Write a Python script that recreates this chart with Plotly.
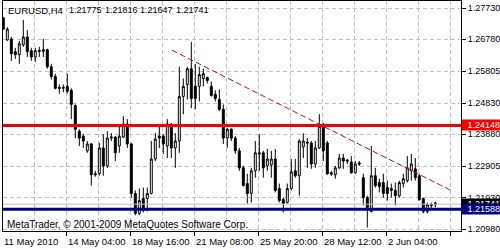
import plotly.graph_objects as go

# ---------------- data (EURUSD, H4) ----------------
bars = list(range(109))
opens = [1.2743, 1.2676, 1.2679, 1.2640, 1.2631, 1.2661, 1.2685, 1.2643, 1.2624, 1.2644,
         1.2641, 1.2646, 1.2594, 1.2564, 1.2531, 1.2528, 1.2534, 1.2522, 1.2476, 1.2397,
         1.2382, 1.2337, 1.2358, 1.2267, 1.2267, 1.2346, 1.2291, 1.2376, 1.2379, 1.2352,
         1.2379, 1.2419, 1.2358, 1.2207, 1.2146, 1.2191, 1.2191, 1.2207, 1.2312, 1.2382,
         1.2382, 1.2352, 1.2419, 1.2346, 1.2367, 1.2503, 1.2540, 1.2588, 1.2534, 1.2534,
         1.2558, 1.2561, 1.2534, 1.2510, 1.2494, 1.2464, 1.2376, 1.2403, 1.2376, 1.2337,
         1.2285, 1.2237, 1.2207, 1.2276, 1.2331, 1.2331, 1.2291, 1.2294, 1.2312, 1.2222,
         1.2188, 1.2179, 1.2222, 1.2276, 1.2261, 1.2349, 1.2364, 1.2361, 1.2297, 1.2346,
         1.2412, 1.2361, 1.2270, 1.2264, 1.2285, 1.2315, 1.2309, 1.2303, 1.2270, 1.2300,
         1.2255, 1.2194, 1.2152, 1.2261, 1.2240, 1.2240, 1.2225, 1.2222, 1.2216, 1.2200,
         1.2237, 1.2246, 1.2276, 1.2282, 1.2261, 1.2191, 1.2152, 1.2173, 1.21775]
highs = [1.2746, 1.2715, 1.2685, 1.2652, 1.2673, 1.2737, 1.2706, 1.2652, 1.2652, 1.2655,
         1.2679, 1.2649, 1.2603, 1.2573, 1.2540, 1.2540, 1.2573, 1.2528, 1.2479, 1.2403,
         1.2388, 1.2367, 1.2361, 1.2276, 1.2361, 1.2388, 1.2397, 1.2391, 1.2382, 1.2419,
         1.2443, 1.2434, 1.2361, 1.2216, 1.2222, 1.2225, 1.2225, 1.2367, 1.2391, 1.2419,
         1.2388, 1.2434, 1.2422, 1.2391, 1.2594, 1.2558, 1.2594, 1.2670, 1.2603, 1.2594,
         1.2588, 1.2564, 1.2549, 1.2522, 1.2525, 1.2479, 1.2406, 1.2406, 1.2382, 1.2346,
         1.2291, 1.2267, 1.2285, 1.2367, 1.2388, 1.2337, 1.2343, 1.2337, 1.2343, 1.2237,
         1.2194, 1.2237, 1.2312, 1.2312, 1.2373, 1.2391, 1.2376, 1.2367, 1.2367, 1.2449,
         1.2422, 1.2367, 1.2276, 1.2291, 1.2328, 1.2328, 1.2312, 1.2321, 1.2306, 1.2306,
         1.2267, 1.2200, 1.2352, 1.2285, 1.2252, 1.2267, 1.2246, 1.2237, 1.2240, 1.2246,
         1.2267, 1.2321, 1.2328, 1.2315, 1.2267, 1.2194, 1.2179, 1.2179, 1.21816]
lows = [1.2706, 1.2673, 1.2612, 1.2618, 1.2603, 1.2655, 1.2624, 1.2612, 1.2609, 1.2624,
        1.2624, 1.2588, 1.2555, 1.2525, 1.2512, 1.2516, 1.2512, 1.2434, 1.2376, 1.2352,
        1.2346, 1.2331, 1.2231, 1.2258, 1.2261, 1.2261, 1.2285, 1.2367, 1.2306, 1.2331,
        1.2376, 1.2346, 1.2194, 1.2140, 1.2140, 1.2149, 1.2152, 1.2204, 1.2306, 1.2346,
        1.2328, 1.2315, 1.2315, 1.2285, 1.2331, 1.2449, 1.2494, 1.2467, 1.2464, 1.2488,
        1.2534, 1.2543, 1.2503, 1.2488, 1.2458, 1.2358, 1.2346, 1.2367, 1.2328, 1.2276,
        1.2228, 1.2176, 1.2179, 1.2255, 1.2276, 1.2255, 1.2276, 1.2255, 1.2210, 1.2179,
        1.2149, 1.2176, 1.2216, 1.2255, 1.2200, 1.2315, 1.2285, 1.2282, 1.2285, 1.2343,
        1.2306, 1.2264, 1.2261, 1.2252, 1.2282, 1.2282, 1.2297, 1.2267, 1.2267, 1.2291,
        1.2170, 1.2103, 1.2149, 1.2225, 1.2210, 1.2194, 1.2185, 1.2194, 1.2170, 1.2194,
        1.2225, 1.2240, 1.2246, 1.2246, 1.2185, 1.2146, 1.2146, 1.2158, 1.21647]
closes = [1.2709, 1.2709, 1.2634, 1.2631, 1.2664, 1.2685, 1.2640, 1.2624, 1.2643, 1.2641,
          1.2646, 1.2594, 1.2564, 1.2528, 1.2528, 1.2531, 1.2519, 1.2479, 1.2403, 1.2376,
          1.2367, 1.2358, 1.2264, 1.2264, 1.2346, 1.2291, 1.2376, 1.2379, 1.2331, 1.2382,
          1.2419, 1.2358, 1.2207, 1.2146, 1.2185, 1.2155, 1.2207, 1.2312, 1.2373, 1.2376,
          1.2358, 1.2419, 1.2346, 1.2367, 1.2503, 1.2534, 1.2588, 1.2497, 1.2497, 1.2570,
          1.2573, 1.2552, 1.2506, 1.2497, 1.2464, 1.2376, 1.2403, 1.2376, 1.2337, 1.2285,
          1.2231, 1.2207, 1.2276, 1.2331, 1.2328, 1.2285, 1.2312, 1.2312, 1.2216, 1.2185,
          1.2176, 1.2222, 1.2273, 1.2261, 1.2367, 1.2367, 1.2361, 1.2297, 1.2346, 1.2412,
          1.2337, 1.2267, 1.2267, 1.2285, 1.2315, 1.2306, 1.2306, 1.2270, 1.2297, 1.2297,
          1.2194, 1.2164, 1.2261, 1.2231, 1.2228, 1.2207, 1.2207, 1.2216, 1.2200, 1.2240,
          1.2252, 1.2285, 1.2297, 1.2255, 1.2188, 1.2152, 1.2173, 1.2170, 1.21741]

y_tick_values = [1.27730, 1.26780, 1.25805, 1.24830, 1.23880, 1.22905, 1.21930, 1.20980]
y_tick_labels = ["1.27730", "1.26780", "1.25805", "1.24830", "1.23880", "1.22905", "1.21930", "1.20980"]

x_label_bars = [0, 15.9, 31.9, 47.9, 63.9, 79.9, 95.9]
x_labels = ["11 May 2010", "14 May 04:00", "18 May 16:00", "21 May 08:00",
            "25 May 20:00", "28 May 12:00", "2 Jun 04:00"]

resistance_level = 1.24148
support_level = 1.21588
trend_x = [42.1, 112.1]
trend_y = [1.2645, 1.2215]

header_items = ["EURUSD,H4", "1.21775", "1.21816", "1.21647", "1.21741"]

# ---------------- layout geometry ----------------
W, H = 500, 250
ML, MR, MT, MB = 3, 39, 1, 19
PW, PH = W - ML - MR, H - MT - MB
X_MIN = -0.075
X_MAX = X_MIN + PW / 4.0
Y_TOP = 1.27949
Y_BOT = 1.20921
FONT = "Liberation Sans, Arial, sans-serif"


def pxx(px):
    return (px - ML) / PW


def pxy(py):
    return 1 - (py - MT) / PH


fig = go.Figure()
fig.add_trace(go.Candlestick(
    x=bars, open=opens, high=highs, low=lows, close=closes,
    increasing=dict(line=dict(color="black", width=1), fillcolor="white"),
    decreasing=dict(line=dict(color="black", width=1), fillcolor="black"),
    whiskerwidth=0, showlegend=False, hoverinfo="skip",
))
fig.add_trace(go.Scatter(
    x=trend_x, y=trend_y, mode="lines",
    line=dict(color="#a8182c", width=1, dash="6px,3px"),
    showlegend=False, hoverinfo="skip",
))

shapes = [
    dict(type="line", xref="paper", x0=0, x1=1, yref="y", y0=closes[-1], y1=closes[-1],
         line=dict(color="#c0c0c0", width=1), layer="above"),
    dict(type="line", xref="paper", x0=0, x1=1, yref="y", y0=resistance_level, y1=resistance_level,
         line=dict(color="#f00000", width=3), layer="above"),
    dict(type="line", xref="paper", x0=0, x1=1, yref="y", y0=support_level, y1=support_level,
         line=dict(color="#000080", width=3), layer="above"),
]

annotations = []
header_px = [7, 68, 104, 139, 175]
header_sizes = [9.5, 9, 9, 9, 9]
for txt, px, fs in zip(header_items, header_px, header_sizes):
    annotations.append(dict(text=txt, xref="paper", yref="paper", x=pxx(px), y=pxy(10),
                            xanchor="left", yanchor="middle", showarrow=False,
                            borderpad=0, font=dict(family=FONT, size=fs, color="black")))
annotations.append(dict(text="MetaTrader, © 2001-2009 MetaQuotes Software Corp.",
                        xref="paper", yref="paper", x=pxx(6), y=pxy(224.5),
                        xanchor="left", yanchor="middle", showarrow=False, borderpad=0,
                        font=dict(family=FONT, size=10, color="black")))
for b, txt in zip(x_label_bars, x_labels):
    annotations.append(dict(text=txt, xref="x", yref="paper", x=b, y=pxy(241.5),
                            xanchor="left", yanchor="middle", showarrow=False, borderpad=0,
                            font=dict(family=FONT, size=9.5, color="black")))
# price labels on the right scale
for lvl, bg in [(closes[-1], "black"), (resistance_level, "#f00000"), (support_level, "#000080")]:
    annotations.append(dict(text=f"{lvl:.5f}", xref="paper", yref="y", x=pxx(461), y=lvl,
                            xanchor="left", yanchor="middle", showarrow=False, borderpad=0,
                            width=38, height=10, align="right", bgcolor=bg,
                            font=dict(family=FONT, size=9, color="white")))

fig.update_layout(
    width=W, height=H,
    margin=dict(l=ML, r=MR, t=MT, b=MB, pad=0),
    paper_bgcolor="white", plot_bgcolor="white",
    shapes=shapes, annotations=annotations,
    showlegend=False,
    xaxis=dict(
        range=[X_MIN, X_MAX], rangeslider=dict(visible=False),
        tickmode="array", tickvals=[16 * k - 0.1 for k in range(1, 8)],
        ticks="outside", ticklen=4, tickcolor="black", showticklabels=False,
        showgrid=True, gridcolor="#c0c0c0", griddash="4px,3px", gridwidth=1,
        minor=dict(tickmode="array", tickvals=[16 * k + 7.9 for k in range(0, 7)],
                   showgrid=True, gridcolor="#c0c0c0", griddash="4px,3px", ticks=""),
        showline=True, linecolor="black", linewidth=1, mirror=True, zeroline=False,
    ),
    yaxis=dict(
        range=[Y_BOT, Y_TOP], side="right",
        tickmode="array", tickvals=y_tick_values, ticktext=y_tick_labels,
        ticks="outside", ticklen=4, tickcolor="black",
        tickfont=dict(family=FONT, size=9, color="black"),
        showgrid=True, gridcolor="#c0c0c0", griddash="4px,3px", gridwidth=1,
        showline=True, linecolor="black", linewidth=1, mirror=True, zeroline=False,
    ),
)

fig.write_html("out.html")
